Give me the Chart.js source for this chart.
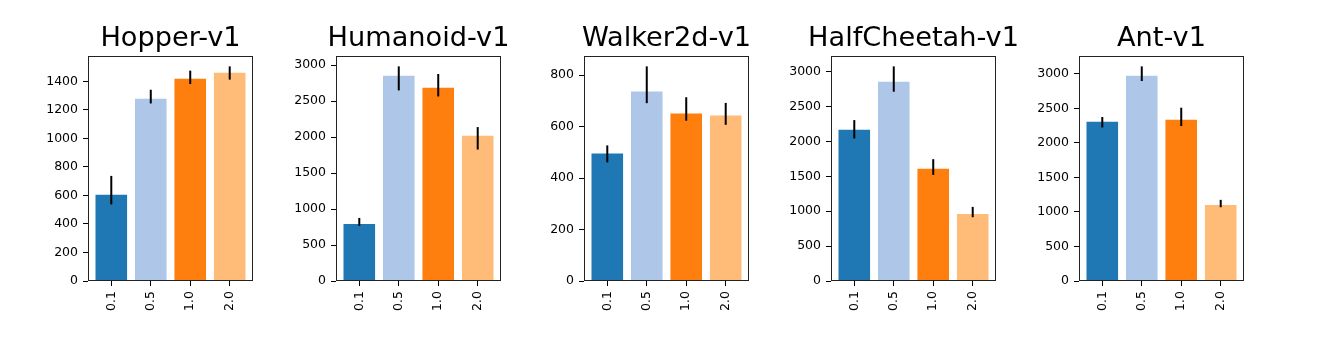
<!DOCTYPE html>
<html>
<head>
<meta charset="utf-8">
<script src="https://cdn.jsdelivr.net/npm/chart.js@4"></script>
<style>
  html, body { margin: 0; padding: 0; background: #fff; }
  #wrap { position: relative; width: 1338px; height: 344px; overflow: hidden; }
  #wrap canvas { position: absolute; top: 0; }
</style>
</head>
<body>
<div id="wrap"></div>
<script>
// Data
const envNames = ['Hopper-v1', 'Humanoid-v1', 'Walker2d-v1', 'HalfCheetah-v1', 'Ant-v1'];
const categories = ['0.1', '0.5', '1.0', '2.0'];
const barColors = ['#1f77b4', '#aec7e8', '#ff7f0e', '#ffbb78'];

const hopperMean = [604, 1278, 1418, 1461];
const hopperLow  = [537, 1245, 1381, 1412];
const hopperHigh = [737, 1341, 1475, 1505];
const hopperTicks = [0, 200, 400, 600, 800, 1000, 1200, 1400];

const humanoidMean = [793, 2851, 2684, 2017];
const humanoidLow  = [765, 2647, 2563, 1826];
const humanoidHigh = [876, 2981, 2875, 2138];
const humanoidTicks = [0, 500, 1000, 1500, 2000, 2500, 3000];

const walkerMean = [495, 736, 651, 643];
const walkerLow  = [461, 691, 623, 607];
const walkerHigh = [527, 834, 714, 692];
const walkerTicks = [0, 200, 400, 600, 800];

const cheetahMean = [2167, 2856, 1608, 962];
const cheetahLow  = [2043, 2713, 1521, 914];
const cheetahHigh = [2306, 3076, 1746, 1062];
const cheetahTicks = [0, 500, 1000, 1500, 2000, 2500, 3000];

const antMean = [2308, 2975, 2337, 1103];
const antLow  = [2225, 2898, 2245, 1069];
const antHigh = [2376, 3110, 2511, 1176];
const antTicks = [0, 500, 1000, 1500, 2000, 2500, 3000];

const panels = [
  { mean: hopperMean, low: hopperLow, high: hopperHigh, ticks: hopperTicks },
  { mean: humanoidMean, low: humanoidLow, high: humanoidHigh, ticks: humanoidTicks },
  { mean: walkerMean, low: walkerLow, high: walkerHigh, ticks: walkerTicks },
  { mean: cheetahMean, low: cheetahLow, high: cheetahHigh, ticks: cheetahTicks },
  { mean: antMean, low: antLow, high: antHigh, ticks: antTicks }
];

// Layout (pixels)
const axesLeft = [88, 336, 584, 831, 1079];
const axesWidth = 165;
const side = 68;
const axesBottom = 281;
const H = 344;

const tickFont = { family: 'DejaVu Sans', size: 12.5 };

// error bars drawn through the scales
const errorBars = {
  id: 'errorBars',
  afterDatasetsDraw(chart, args, opts) {
    const ctx = chart.ctx;
    const meta = chart.getDatasetMeta(0);
    const y = chart.scales.y;
    ctx.save();
    ctx.strokeStyle = '#000';
    ctx.lineWidth = 2;
    meta.data.forEach((bar, i) => {
      ctx.beginPath();
      ctx.moveTo(bar.x, y.getPixelForValue(opts.low[i]));
      ctx.lineTo(bar.x, y.getPixelForValue(opts.high[i]));
      ctx.stroke();
    });
    ctx.restore();
  }
};

// box around the axes
const frame = {
  id: 'frame',
  afterDraw(chart) {
    const a = chart.chartArea;
    const ctx = chart.ctx;
    ctx.save();
    ctx.strokeStyle = '#222';
    ctx.lineWidth = 1;
    ctx.strokeRect(Math.round(a.left) + 0.5, Math.round(a.top) + 0.5,
      Math.round(a.right - a.left) - 1, Math.round(a.bottom - a.top) - 1);
    ctx.restore();
  }
};

const wrap = document.getElementById('wrap');

panels.forEach((p, k) => {
  const canvas = document.createElement('canvas');
  canvas.width = axesWidth + 2 * side;
  canvas.height = H;
  canvas.style.left = (axesLeft[k] - side) + 'px';
  canvas.style.width = canvas.width + 'px';
  canvas.style.height = H + 'px';
  wrap.appendChild(canvas);

  const yMax = Math.max(...p.high) * 1.05;
  const pad = 0.05 * (categories.length - 1 + 0.8);

  new Chart(canvas.getContext('2d'), {
    type: 'bar',
    data: {
      datasets: [{
        data: p.mean.map((v, i) => ({ x: i, y: v })),
        backgroundColor: barColors,
        borderWidth: 0,
        barPercentage: 0.8,
        categoryPercentage: 1.0
      }]
    },
    options: {
      responsive: false,
      animation: false,
      events: [],
      layout: { padding: 0 },
      plugins: {
        legend: { display: false },
        tooltip: { enabled: false },
        title: {
          display: true,
          text: envNames[k],
          color: '#000',
          font: { family: 'DejaVu Sans', size: 27.2, weight: 'normal', lineHeight: 1.2 },
          padding: { top: 23, bottom: 0 }
        },
        errorBars: { low: p.low, high: p.high }
      },
      scales: {
        x: {
          type: 'linear',
          offset: false,
          min: -0.4 - pad,
          max: categories.length - 1 + 0.4 + pad,
          afterBuildTicks: s => { s.ticks = categories.map((c, i) => ({ value: i })); },
          afterFit: s => { s.height = H - axesBottom; },
          border: { display: false },
          grid: { offset: false, drawOnChartArea: false, tickLength: 5, tickColor: '#000', lineWidth: 1 },
          ticks: {
            color: '#000',
            font: tickFont,
            padding: 5,
            minRotation: 90,
            maxRotation: 90,
            callback: (v) => categories[v]
          }
        },
        y: {
          min: 0,
          max: yMax,
          afterBuildTicks: s => { s.ticks = p.ticks.map(v => ({ value: v })); },
          afterFit: s => { s.width = side; },
          border: { display: false },
          grid: { drawOnChartArea: false, tickLength: 5, tickColor: '#000', lineWidth: 1 },
          ticks: { color: '#000', font: tickFont, padding: 5, callback: v => String(v) }
        },
        // empty right-hand scale so the title stays centred over the axes
        yRight: {
          axis: 'y',
          position: 'right',
          afterFit: s => { s.width = side; },
          border: { display: false },
          grid: { display: false },
          ticks: { display: false }
        }
      }
    },
    plugins: [errorBars, frame]
  });
});
</script>
</body>
</html>
